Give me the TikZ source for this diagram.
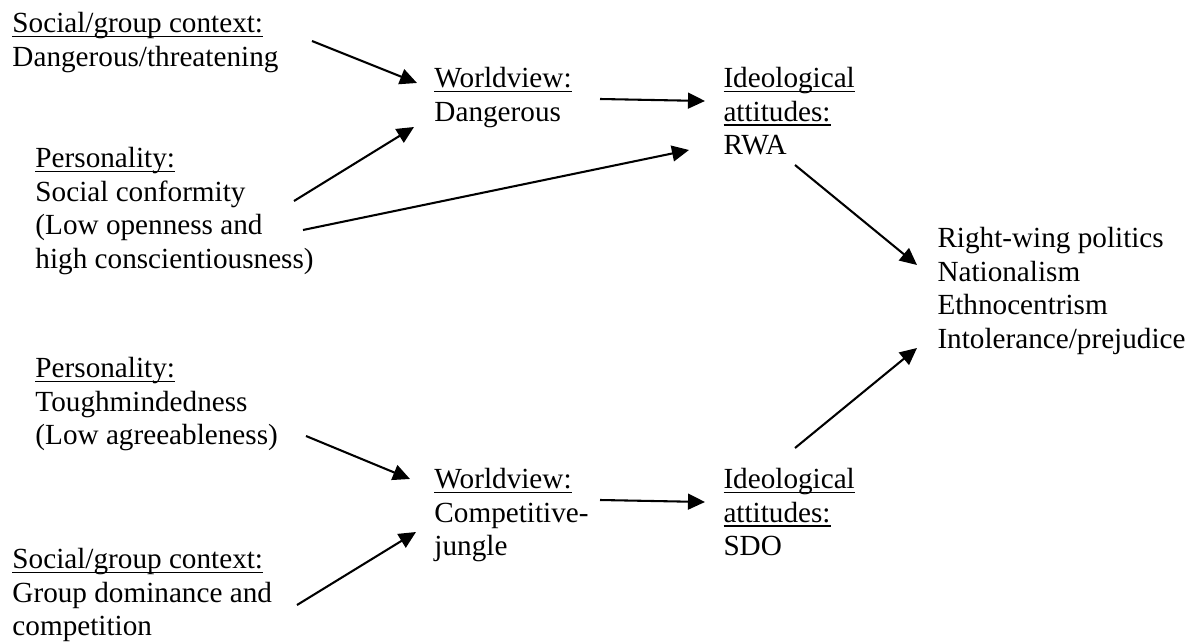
\documentclass[tikz,border=0pt]{standalone}
\usepackage{fontspec}
\setmainfont{Liberation Serif}
\usetikzlibrary{arrows.meta}
\newcommand{\lbl}[1]{\setbox0\hbox{#1}\rlap{\rule[-1.9pt]{\wd0}{0.6pt}}\box0}

\begin{document}
\begin{tikzpicture}[x=0.411pt,y=-0.411pt]
    \tikzstyle{box}=[anchor=north west, inner sep=0pt, align=left, font=\fontsize{12}{13.8}\selectfont]
    \tikzstyle{arr}=[line width=0.85pt, -{Triangle[length=7pt,width=6.5pt]}]
    \useasboundingbox (0,0) rectangle (1199,642);
    \node[box] (ctxD) at (12,8.5) {\strut\lbl{Social/group context:}\\Dangerous/threatening};
    \node[box] (perS) at (35,143.5) {\strut\lbl{Personality:}\\Social conformity\\(Low openness and\\high conscientiousness)};
    \node[box] (wvD) at (434,63.5) {\strut\lbl{Worldview:}\\Dangerous};
    \node[box] (ideoR) at (723,63.5) {\strut\lbl{Ideological}\\\lbl{attitudes:}\\RWA};
    \node[box] (out) at (937,223.5) {\strut Right-wing politics\\Nationalism\\Ethnocentrism\\Intolerance/prejudice};
    \node[box] (perT) at (35,353.5) {\strut\lbl{Personality:}\\Toughmindedness\\(Low agreeableness)};
    \node[box] (wvC) at (434,464.5) {\strut\lbl{Worldview:}\\Competitive-\\jungle};
    \node[box] (ideoS) at (723,464.5) {\strut\lbl{Ideological}\\\lbl{attitudes:}\\SDO};
    \node[box] (ctxG) at (12,544.5) {\strut\lbl{Social/group context:}\\Group dominance and\\competition};
    \draw[arr] ([shift={(300,32.5)}]ctxD.north west) -- ([shift={(-17,19.5)}]wvD.north west);
    \draw[arr] ([shift={(259,57.5)}]perS.north west) -- ([shift={(-20,63.5)}]wvD.north west);
    \draw[arr] ([shift={(268,86.5)}]perS.north west) -- ([shift={(-34,86.5)}]ideoR.north west);
    \draw[arr] ([shift={(166,35.5)}]wvD.north west) -- ([shift={(-18,37.5)}]ideoR.north west);
    \draw[arr] ([shift={(72,101.5)}]ideoR.north west) -- ([shift={(-20,41.5)}]out.north west);
    \draw[arr] ([shift={(72,-16.5)}]ideoS.north west) -- ([shift={(-20,124.5)}]out.north west);
    \draw[arr] ([shift={(271,82.5)}]perT.north west) -- ([shift={(-24,14.5)}]wvC.north west);
    \draw[arr] ([shift={(285,60.5)}]ctxG.north west) -- ([shift={(-18,67.5)}]wvC.north west);
    \draw[arr] ([shift={(166,35.5)}]wvC.north west) -- ([shift={(-18,37.5)}]ideoS.north west);
\end{tikzpicture}
\end{document}
